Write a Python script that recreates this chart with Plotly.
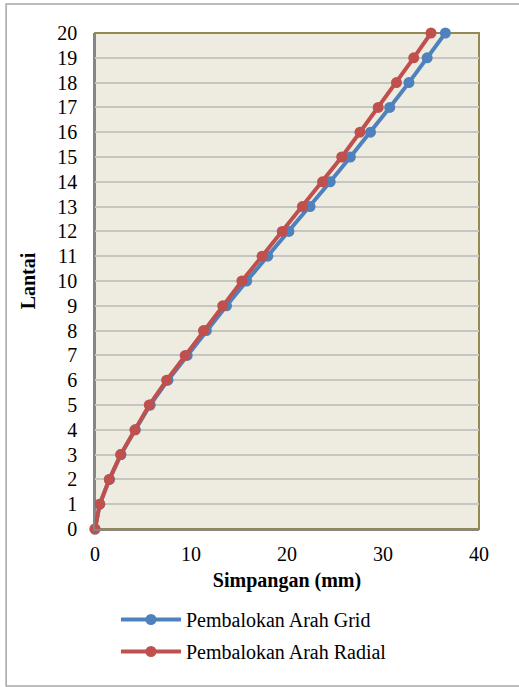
import plotly.graph_objects as go

lantai = list(range(0, 21))
grid = [0, 0.5, 1.5, 2.7, 4.2, 5.75, 7.6, 9.6, 11.6, 13.7, 15.8, 18.0, 20.2, 22.4, 24.5, 26.6, 28.7, 30.7, 32.7, 34.6, 36.5]
radial = [0, 0.49, 1.49, 2.67, 4.16, 5.65, 7.46, 9.4, 11.3, 13.3, 15.3, 17.4, 19.5, 21.6, 23.7, 25.7, 27.6, 29.5, 31.4, 33.2, 35.0]
x_ticks = [0, 10, 20, 30, 40]

BLUE = "#4F81BD"
RED = "#C0504D"
FONT = "Liberation Serif"

fig = go.Figure()
fig.add_trace(go.Scatter(x=grid, y=lantai, mode="lines+markers", name="Pembalokan Arah Grid",
                         legendgroup="g1", cliponaxis=False,
                         line=dict(color=BLUE, width=4), marker=dict(size=11, color=BLUE)))
fig.add_trace(go.Scatter(x=radial, y=lantai, mode="lines+markers", name="Pembalokan Arah Radial",
                         legendgroup="g2", cliponaxis=False,
                         line=dict(color=RED, width=4), marker=dict(size=11, color=RED)))

W, H = 519, 687
L, R, T, B = 95, 39.5, 33, 158
pw, ph = W - L - R, H - T - B

def px2paper_x(px):
    return (px - L) / pw

def px2paper_y(py):
    return (H - B - py) / ph

fig.update_layout(
    width=W, height=H,
    margin=dict(l=L, r=R, t=T, b=B),
    paper_bgcolor="white",
    plot_bgcolor="#EEECE1",
    font=dict(family=FONT, size=20, color="black"),
    showlegend=True,
    legend=dict(x=px2paper_x(116), y=px2paper_y(600), xanchor="left", yanchor="top",
                font=dict(family=FONT, size=20), traceorder="grouped", tracegroupgap=3,
                itemwidth=60, bgcolor="rgba(0,0,0,0)"),
    xaxis=dict(range=[0, 40], tickvals=x_ticks, showgrid=False, zeroline=False,
               showline=True, linecolor="#868686", linewidth=1.5,
               ticks="", ticklabelstandoff=6, tickfont=dict(family=FONT, size=20),
               title=dict(text="<b>Simpangan (mm)</b>", font=dict(family=FONT, size=20), standoff=9)),
    yaxis=dict(range=[0, 20], tickvals=lantai, showgrid=True, gridcolor="#C6C5BF", gridwidth=2,
               zeroline=False, showline=True, linecolor="#868686", linewidth=1.5,
               ticks="", ticklabelstandoff=12, tickfont=dict(family=FONT, size=20),
               title=dict(text="<b>Lantai</b>", font=dict(family=FONT, size=20), standoff=16)),
    shapes=[
        dict(type="rect", xref="paper", yref="paper", x0=0, x1=1, y0=0, y1=1,
             line=dict(color="#938953", width=2), layer="below", fillcolor="rgba(0,0,0,0)"),
        dict(type="rect", xref="paper", yref="paper",
             x0=px2paper_x(6), x1=px2paper_x(530), y0=px2paper_y(686), y1=px2paper_y(4),
             line=dict(color="#A6A6A6", width=1.5), fillcolor="rgba(0,0,0,0)"),
    ],
)

fig.write_html("out.html", config={"displayModeBar": False},
               post_script="document.body.style.margin='0px';")
